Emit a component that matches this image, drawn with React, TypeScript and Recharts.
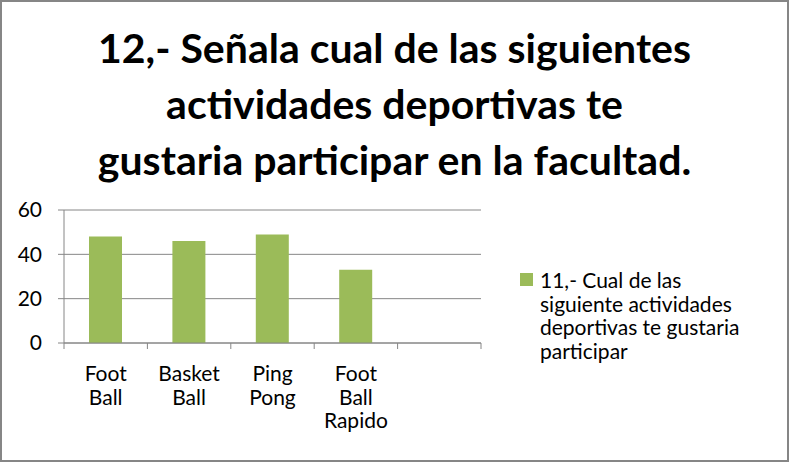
import { Bar, BarChart, CartesianGrid, XAxis, YAxis } from "recharts";

const CATEGORIES = ["Foot Ball", "Basket Ball", "Ping Pong", "Foot Ball Rapido", ""];
const VALUES = [48, 46, 49, 33, null];
const Y_TICKS = [0, 20, 40, 60];
const TITLE = ["12,- Señala cual de las siguientes", "actividades deportivas te", "gustaria participar en la facultad."];
const LEGEND_LINES = ["11,- Cual de las", "siguiente actividades", "deportivas te gustaria", "participar"];

const FONT = "Lato, 'Open Sans', sans-serif";
const GREEN = "#9bbb59";
const GRAY = "#868686";

const data = CATEGORIES.map((c, i) => ({ name: c, value: VALUES[i] }));

function CatTick(props: any) {
  const { x, y, payload, index } = props;
  const half = payload.offset ?? 41.7;
  const words = String(payload.value).split(" ").filter(Boolean);
  return (
    <g>
      <line x1={x - half} x2={x - half} y1={y - 8} y2={y - 2} stroke={GRAY} />
      {index === CATEGORIES.length - 1 && <line x1={x + half} x2={x + half} y1={y - 8} y2={y - 2} stroke={GRAY} />}
      <text x={x} y={y + 30} textAnchor="middle" fill="#000" fontSize={21} fontFamily={FONT}>
        {words.map((w, i) => (
          <tspan key={i} x={x} dy={i === 0 ? 0 : 23.5}>{w}</tspan>
        ))}
      </text>
    </g>
  );
}

export default function App() {
  return (
    <div style={{ position: "absolute", left: 0, top: 0, width: 789, height: 462, background: "#fff" }}>
      <div style={{ position: "absolute", inset: 0, border: `2px solid ${GRAY}`, boxSizing: "border-box" }} />
      <div style={{ position: "absolute", left: 0, top: 20, width: 789, textAlign: "center", fontFamily: FONT, fontWeight: 700, fontSize: 41, lineHeight: "56px", color: "#000" }}>
        {TITLE.map((t, i) => (
          <div key={i}>{t}</div>
        ))}
      </div>
      <BarChart width={789} height={462} data={data} margin={{ top: 210, right: 308, left: 0, bottom: 0 }}>
        <CartesianGrid horizontal vertical={false} stroke={GRAY} />
        <XAxis dataKey="name" height={119} interval={0} stroke={GRAY} tickLine={false} tick={<CatTick />} />
        <YAxis domain={[0, 60]} ticks={Y_TICKS} width={64} stroke={GRAY} tickSize={6} tickMargin={16}
          tick={{ fill: "#000", fontSize: 21, fontFamily: FONT }} />
        <Bar dataKey="value" fill={GREEN} barSize={33} isAnimationActive={false} />
      </BarChart>
      <div style={{ position: "absolute", left: 520, top: 268, fontFamily: FONT, fontSize: 21, lineHeight: "23.5px", color: "#000" }}>
        <span style={{ position: "absolute", left: 0, top: 5, width: 13, height: 13, background: GREEN }} />
        <div style={{ marginLeft: 20, whiteSpace: "nowrap" }}>
          {LEGEND_LINES.map((l, i) => (
            <div key={i}>{l}</div>
          ))}
        </div>
      </div>
    </div>
  );
}
